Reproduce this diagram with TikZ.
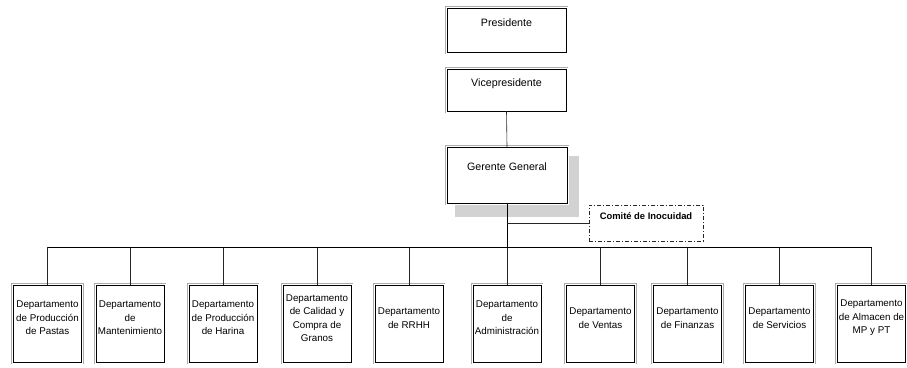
\documentclass[tikz,border=0pt]{standalone}
\usepackage{fontspec}
\setmainfont{Liberation Sans}
\begin{document}
\begin{tikzpicture}[x=1pt,y=-1pt,
  orgbox/.style={draw=black, line width=0.5pt, fill=white, inner sep=0pt,
    preaction={draw=gray!65, line width=4.8pt},
    preaction={draw=white, line width=3pt}},
  deptbox/.style={orgbox, minimum width=68pt, minimum height=77pt},
  linea/.style={draw=gray!30!black, line width=0.6pt},
  txt/.style={align=center, inner sep=0pt, font=\fontsize{9.8}{13.4}\selectfont}]

\useasboundingbox (0,0) rectangle (907,367);

% Direccion
\node[orgbox, minimum width=119pt, minimum height=44pt] (pres) at (506.5,30) {};
\node[txt, font=\fontsize{10.7}{12}\selectfont] at (506.5,23) {Presidente};

\node[orgbox, minimum width=119pt, minimum height=42pt] (vice) at (506.5,90) {};
\node[txt, font=\fontsize{10.7}{12}\selectfont] at (506.5,84) {Vicepresidente};

% Sombra
\fill[gray!35] (455,156) rectangle (579,217);

\node[orgbox, minimum width=120pt, minimum height=56pt] (ger) at (507,175) {};
\node[txt, font=\fontsize{10.7}{12}\selectfont] at (507,167) {Gerente General};

\draw[linea] (vice.south) -- (ger.north);

% Comite
\node[draw=gray!30!black, line width=0.7pt,
  dash pattern=on 4pt off 2pt on 1pt off 2pt,
  minimum width=114pt, minimum height=36pt, inner sep=0pt] (comite) at (646,223) {};
\node[txt, font=\bfseries\fontsize{9.4}{10}\selectfont] at (646,216) {Comité de Inocuidad};

% Bus
\coordinate (bus) at (507,247);
\draw[black, line width=1pt] (ger.south) -- (bus);
\draw[linea] (ger.south |- comite.west) -- (comite.west);

% Departamentos
\foreach \x/\t [count=\i] in {
  47.5/{Departamento\\de Producción\\de Pastas},
  130/{Departamento\\de\\Mantenimiento},
  223/{Departamento\\de Producción\\de Harina},
  317/{Departamento\\de Calidad y\\Compra de\\Granos},
  409/{Departamento\\de RRHH},
  507/{Departamento\\de\\Administración},
  600.5/{Departamento\\de Ventas},
  687.5/{Departamento\\de Finanzas},
  779.5/{Departamento\\de Servicios},
  871.5/{Departamento\\de Almacen de\\MP y PT}}
{
  \node[deptbox] (d\i) at (\x,323.5) {};
  \node[txt] at (\x,318) {\t};
  \draw[linea] (d\i.north) -- (d\i.north |- bus);
}

\draw[black, line width=1pt] (d1.north |- bus) -- (d10.north |- bus);

\end{tikzpicture}
\end{document}
